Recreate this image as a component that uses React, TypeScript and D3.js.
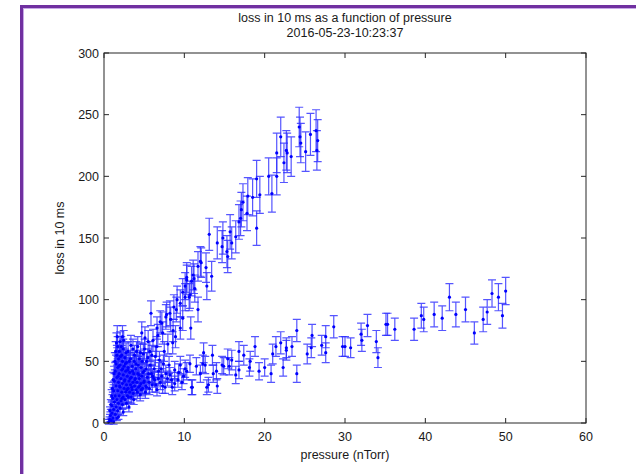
import React, { useRef, useEffect } from "react";
import * as d3 from "d3";

// [pressure (nTorr), loss in 10 ms, error]
const denseCluster: number[][] = [
  [0.6, 1, 2], [0.7, 3, 2], [0.8, 6, 3], [0.9, 2, 2], [1.0, 8, 3], [1.0, 14, 4], [1.1, 4, 2], [1.1, 20, 5],
  [1.2, 1, 2], [1.2, 11, 3], [1.2, 26, 5], [1.3, 17, 4], [1.3, 34, 6], [1.4, 7, 3], [1.4, 22, 5], [1.4, 42, 7],
  [1.5, 13, 4], [1.5, 30, 6], [1.5, 48, 7], [1.6, 4, 2], [1.6, 19, 4], [1.6, 37, 6], [1.6, 55, 8], [1.7, 10, 3],
  [1.7, 26, 5], [1.7, 45, 7], [1.7, 62, 8], [1.8, 5, 2], [1.8, 16, 4], [1.8, 33, 6], [1.8, 52, 7], [1.9, 22, 5],
  [1.9, 40, 7], [1.9, 58, 8], [2.0, 12, 4], [2.0, 29, 6], [2.0, 47, 7], [2.0, 66, 8], [2.1, 18, 4], [2.1, 36, 6],
  [2.2, 25, 5], [2.2, 43, 7], [2.2, 55, 8], [2.3, 15, 4], [2.3, 32, 6], [2.3, 50, 7], [2.3, 70, 9], [2.4, 9, 3],
  [2.4, 21, 5], [2.4, 39, 6], [2.4, 60, 8], [2.5, 28, 5], [2.5, 46, 7], [2.6, 19, 4], [2.6, 35, 6], [2.6, 53, 7],
  [2.7, 25, 5], [2.7, 42, 7], [2.8, 16, 4], [2.8, 31, 6], [2.8, 49, 7], [2.9, 22, 5], [2.9, 38, 6], [3.0, 28, 5],
  [3.0, 45, 7], [3.0, 58, 8], [3.1, 13, 4], [3.1, 34, 6], [3.2, 25, 5], [3.2, 41, 7], [3.3, 31, 6], [3.3, 52, 7],
  [3.4, 21, 5], [3.4, 37, 6], [3.5, 27, 5], [3.5, 46, 7], [3.6, 33, 6], [3.6, 60, 8], [3.7, 19, 4], [3.7, 40, 7],
  [3.8, 30, 6], [3.8, 55, 8], [3.9, 36, 6], [4.0, 27, 5], [4.0, 48, 7], [4.1, 33, 6], [4.2, 40, 7], [4.2, 62, 8],
  [4.3, 29, 5], [4.4, 36, 6], [4.4, 52, 7], [4.5, 23, 5], [4.6, 32, 6], [4.6, 45, 7], [4.7, 38, 6], [4.8, 28, 5],
  [4.9, 56, 8],
  // second pass over the solid blue mass
  [0.75, 10, 3], [0.85, 15, 4], [0.95, 22, 5], [1.05, 28, 5], [1.15, 35, 6], [1.25, 40, 6], [1.35, 50, 7],
  [1.45, 58, 8], [1.55, 65, 8], [1.65, 70, 9], [1.75, 38, 6], [1.85, 46, 7], [1.95, 30, 6], [2.05, 54, 7],
  [2.15, 62, 8], [2.25, 20, 5], [2.35, 44, 7], [2.45, 67, 8], [2.55, 34, 6], [2.65, 48, 7], [2.75, 57, 8],
  [2.85, 27, 5], [2.95, 43, 7], [3.05, 21, 5], [3.15, 50, 7], [3.25, 36, 6], [3.35, 63, 8], [3.45, 29, 5],
  [3.55, 42, 7], [3.65, 24, 5], [3.75, 50, 7], [3.85, 35, 6], [3.95, 44, 7], [4.05, 58, 8], [4.15, 25, 5],
  [4.25, 47, 7], [4.35, 39, 6], [4.45, 30, 6], [4.55, 57, 8], [4.65, 27, 5], [4.75, 50, 7], [4.85, 41, 7],
  [4.95, 33, 6], [5.05, 60, 8], [5.15, 25, 5], [5.25, 44, 7], [5.45, 53, 7], [5.55, 40, 7], [5.65, 28, 5],
  [5.75, 47, 7], [5.95, 55, 8], [6.05, 38, 6], [6.25, 44, 7], [6.45, 31, 6], [6.55, 62, 8], [6.75, 36, 6],
  [6.9, 51, 7], [7.1, 44, 7], [7.3, 30, 6], [7.5, 58, 8], [7.7, 40, 7], [7.95, 64, 8], [8.1, 47, 7],
  [8.5, 29, 6], [8.9, 70, 9], [9.3, 41, 7], [9.7, 33, 6],
];

const upperBranch: number[][] = [
  [4.7, 73, 9], [5.1, 69, 9], [5.5, 66, 9], [5.85, 89, 10], [6.1, 67, 9], [6.4, 54, 8], [6.6, 77, 9], [6.7, 71, 9],
  [7.0, 82, 9], [7.2, 81, 9], [7.3, 73, 9], [7.7, 86, 10], [7.8, 88, 10], [8.2, 89, 10], [8.3, 84, 10], [8.55, 65, 9],
  [8.6, 75, 9], [8.7, 94, 10], [9.0, 92, 10], [9.1, 100, 11], [9.5, 97, 11], [9.5, 77, 9], [9.8, 106, 11], [9.8, 85, 10],
  [10.1, 102, 11], [10.1, 111, 11], [10.3, 118, 12], [10.3, 116, 12], [10.6, 102, 11], [10.7, 104, 11], [10.8, 77, 9],
  [10.9, 115, 12], [11.1, 120, 12], [11.2, 117, 12], [11.3, 109, 11], [11.7, 127, 12], [11.7, 92, 10], [12.0, 131, 12],
  [12.1, 130, 12], [12.7, 126, 12], [12.8, 111, 11], [13.1, 153, 13], [13.4, 119, 12], [14.1, 146, 13], [14.7, 143, 13],
  [14.8, 150, 13], [15.3, 139, 13], [15.4, 135, 13], [15.7, 155, 14], [15.9, 146, 13], [16.4, 151, 13], [16.8, 163, 14],
  [17.0, 166, 14], [17.1, 173, 14], [17.3, 179, 15], [17.8, 170, 14], [17.9, 184, 15], [18.5, 183, 15], [19.0, 198, 15],
  [19.0, 158, 14], [19.4, 185, 15], [20.5, 200, 15], [20.9, 186, 15], [21.5, 200, 15], [21.5, 219, 16], [22.0, 232, 16],
  [22.4, 211, 16], [22.7, 221, 16], [22.8, 219, 16], [23.3, 216, 16], [24.3, 240, 16], [24.4, 232, 16], [24.5, 227, 16],
  [25.1, 220, 16], [25.7, 234, 17], [26.4, 237, 17], [26.5, 221, 16], [26.6, 229, 17],
];

const lowerBranch: number[][] = [
  [5.0, 34, 6], [5.0, 42, 7], [5.2, 30, 6], [5.3, 29, 5], [5.3, 50, 7], [5.4, 37, 6], [5.6, 33, 6], [5.7, 58, 8],
  [5.9, 40, 7], [6.0, 31, 6], [6.2, 36, 6], [6.3, 35, 6], [6.6, 27, 5], [6.8, 42, 7], [7.0, 33, 6], [7.2, 38, 6],
  [7.4, 48, 7], [7.6, 29, 5], [7.9, 36, 6], [8.2, 39, 6], [8.4, 35, 6], [8.8, 32, 6], [8.8, 43, 7], [9.2, 35, 6],
  [9.5, 47, 7], [9.9, 38, 6], [10.1, 44, 7], [10.3, 42, 7], [10.7, 48, 7], [10.9, 29, 6], [11.0, 29, 6], [11.5, 46, 7],
  [12.0, 40, 7], [12.3, 48, 7], [12.4, 57, 8], [12.6, 47, 7], [12.8, 29, 6], [13.0, 31, 6], [13.5, 55, 8], [13.6, 40, 7],
  [14.0, 42, 7], [14.1, 30, 6], [14.7, 47, 7], [14.9, 46, 7], [15.4, 52, 8], [15.6, 46, 7], [15.9, 51, 8], [16.4, 39, 7],
  [16.8, 58, 8], [16.8, 43, 7], [17.4, 55, 8], [18.1, 45, 7], [18.2, 50, 8], [18.8, 62, 8], [19.3, 42, 7], [20.0, 45, 7],
  [20.8, 40, 7], [21.0, 56, 8], [21.4, 62, 8], [22.0, 65, 9], [22.3, 45, 7], [22.7, 59, 8], [22.7, 61, 8], [23.4, 62, 8],
  [24.0, 75, 9], [24.0, 40, 7], [25.3, 56, 8], [25.8, 61, 8], [25.9, 71, 9], [27.1, 63, 8], [27.6, 57, 8], [27.6, 70, 9],
  [28.6, 78, 9], [29.7, 62, 8], [30.0, 62, 8], [30.7, 61, 8], [32.0, 72, 9], [32.1, 67, 9], [32.8, 79, 9], [33.9, 66, 9],
  [34.1, 53, 8], [35.1, 80, 9], [35.3, 80, 9], [36.2, 76, 9], [38.6, 76, 9], [39.5, 87, 10], [39.8, 84, 10], [41.1, 88, 10],
  [42.1, 85, 10], [43.0, 102, 11], [43.8, 88, 10], [45.0, 92, 10], [46.1, 73, 9], [47.2, 84, 10], [47.7, 90, 10],
  [48.3, 105, 11], [49.1, 102, 11], [49.6, 87, 10], [50.0, 107, 11],
];

const xTicks = [0, 10, 20, 30, 40, 50, 60];
const yTicks = [0, 50, 100, 150, 200, 250, 300];
const titleLines = ["loss in 10 ms as a function of pressure", "2016-05-23-10:23:37"];
const xLabel = "pressure (nTorr)";
const yLabel = "loss in 10 ms";

const W = 636;
const H = 474;
const margin = { left: 104, top: 53, right: 50, bottom: 51 };
const FONT = "'Liberation Sans', Arial, Helvetica, sans-serif";

const App = () => {
  const svgRef = useRef<SVGSVGElement>(null);

  useEffect(() => {
    const svg = d3.select(svgRef.current);
    svg.selectAll("*").remove();

    const x = d3.scaleLinear().domain([0, 60]).range([margin.left, W - margin.right]);
    const y = d3.scaleLinear().domain([0, 300]).range([H - margin.bottom, margin.top]);

    // purple frame around the figure
    svg.append("rect").attr("width", W).attr("height", H).attr("fill", "#fff");
    svg
      .append("rect")
      .attr("x", 21.5)
      .attr("y", 6.5)
      .attr("width", W)
      .attr("height", H)
      .attr("fill", "none")
      .attr("stroke", "#7030a0")
      .attr("stroke-width", 3);
    svg
      .append("rect")
      .attr("x", 23.5)
      .attr("y", 8.5)
      .attr("width", W)
      .attr("height", H)
      .attr("fill", "none")
      .attr("stroke", "#c7a8e6")
      .attr("stroke-width", 1);

    const all = [...denseCluster, ...lowerBranch, ...upperBranch];

    // error bars
    const bars = svg.append("g").attr("stroke", "#2a2aff").attr("stroke-width", 1.2).attr("stroke-opacity", 0.8);
    all.forEach(([p, v, e]) => {
      const cx = x(p);
      bars
        .append("path")
        .attr(
          "d",
          `M${cx},${y(v - e)}V${y(v + e)}` +
            `M${cx - 4},${y(v + e)}H${cx + 4}` +
            `M${cx - 4},${y(v - e)}H${cx + 4}`
        );
    });

    // markers
    svg
      .append("g")
      .selectAll("circle")
      .data(all)
      .enter()
      .append("circle")
      .attr("cx", (d) => x(d[0]))
      .attr("cy", (d) => y(d[1]))
      .attr("r", 1.6)
      .attr("fill", "#0000ff");

    // axes box with inward ticks on all sides
    const axisColor = "#262626";
    const [x0, x1] = x.range();
    const [y0, y1] = y.range();
    svg
      .append("rect")
      .attr("x", x0)
      .attr("y", y1)
      .attr("width", x1 - x0)
      .attr("height", y0 - y1)
      .attr("fill", "none")
      .attr("stroke", axisColor)
      .attr("stroke-width", 1);

    const tickLen = 5;
    const ticks = svg.append("g").attr("stroke", axisColor).attr("stroke-width", 1);
    xTicks.forEach((t) => {
      ticks.append("line").attr("x1", x(t)).attr("x2", x(t)).attr("y1", y0).attr("y2", y0 - tickLen);
      ticks.append("line").attr("x1", x(t)).attr("x2", x(t)).attr("y1", y1).attr("y2", y1 + tickLen);
    });
    yTicks.forEach((t) => {
      ticks.append("line").attr("x1", x0).attr("x2", x0 + tickLen).attr("y1", y(t)).attr("y2", y(t));
      ticks.append("line").attr("x1", x1).attr("x2", x1 - tickLen).attr("y1", y(t)).attr("y2", y(t));
    });

    const labels = svg.append("g").attr("font-family", FONT).attr("font-size", 12.5).attr("fill", "#1a1a1a");
    xTicks.forEach((t) => {
      labels
        .append("text")
        .attr("x", x(t))
        .attr("y", y0 + 18)
        .attr("text-anchor", "middle")
        .text(t);
    });
    yTicks.forEach((t) => {
      labels
        .append("text")
        .attr("x", x0 - 5)
        .attr("y", y(t) + 4.5)
        .attr("text-anchor", "end")
        .text(t);
    });

    labels
      .append("text")
      .attr("x", (x0 + x1) / 2)
      .attr("y", y0 + 36)
      .attr("text-anchor", "middle")
      .text(xLabel);

    labels
      .append("text")
      .attr("transform", `translate(${x0 - 40},${(y0 + y1) / 2}) rotate(-90)`)
      .attr("text-anchor", "middle")
      .text(yLabel);

    titleLines.forEach((line, i) => {
      labels
        .append("text")
        .attr("x", (x0 + x1) / 2)
        .attr("y", 22 + i * 15)
        .attr("text-anchor", "middle")
        .text(line);
    });
  }, []);

  return (
    <svg
      ref={svgRef}
      width={W}
      height={H}
      style={{ position: "absolute", left: 0, top: 0, display: "block" }}
    ></svg>
  );
};

export default App;
